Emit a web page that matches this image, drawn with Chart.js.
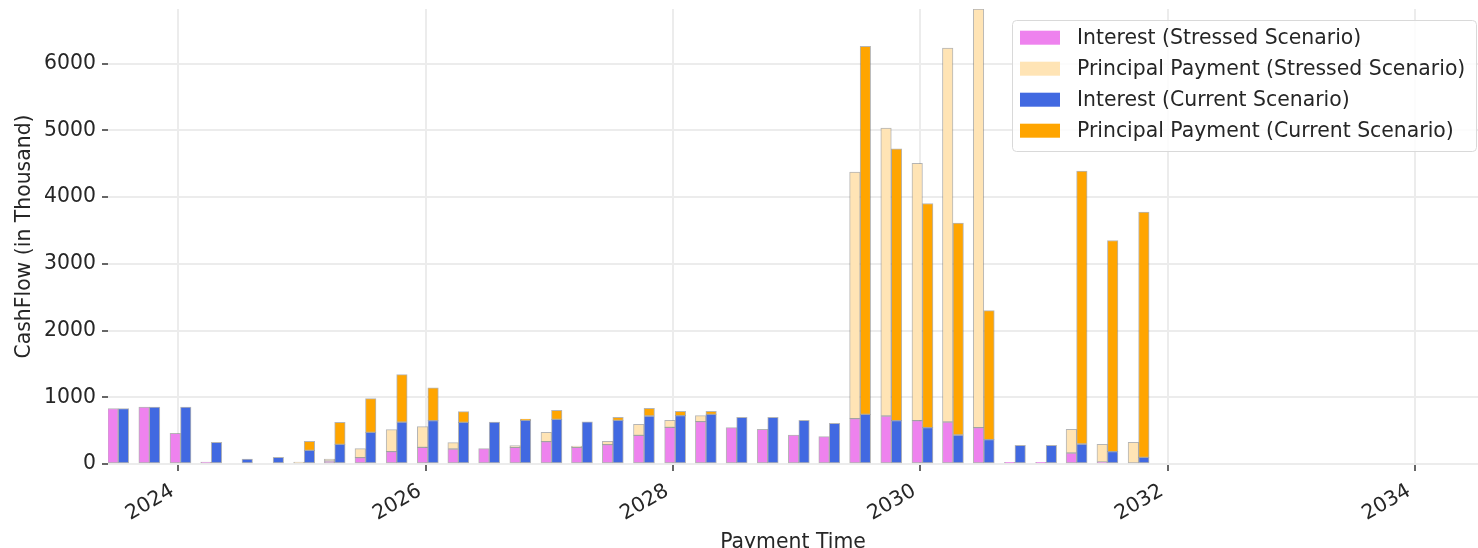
<!DOCTYPE html>
<html>
<head>
<meta charset="utf-8">
<script src="https://cdn.jsdelivr.net/npm/chart.js@4.4.1/dist/chart.umd.min.js"></script>
<style>
  html, body { margin: 0; padding: 0; background: #ffffff; }
  #wrap { position: relative; width: 1478px; height: 548px; }
</style>
</head>
<body>
<div id="wrap"><canvas id="c"></canvas></div>
<script>
// ---- data (values in thousand) ----
const paymentDates = [
  "2023-07-07","2023-10-07","2024-01-07","2024-04-07","2024-07-07","2024-10-07",
  "2025-01-07","2025-04-07","2025-07-07","2025-10-07","2026-01-07","2026-04-07",
  "2026-07-07","2026-10-07","2027-01-07","2027-04-07","2027-07-07","2027-10-07",
  "2028-01-07","2028-04-07","2028-07-07","2028-10-07","2029-01-07","2029-04-07",
  "2029-07-07","2029-10-07","2030-01-07","2030-04-07","2030-07-07","2030-10-07",
  "2031-01-07","2031-04-07","2031-07-07","2031-10-07"
];
const interestStressed = [
  832, 852, 460, 30, 0, 0,
  0, 45, 95, 185, 250, 225,
  230, 250, 335, 248, 290, 430,
  550, 635, 545, 520, 435, 410,
  680, 720, 650, 630, 545, 25,
  25, 165, 30, 0
];
const principalStressed = [
  0, 0, 0, 0, 0, 0,
  30, 30, 135, 330, 310, 95,
  0, 25, 140, 22, 50, 165,
  105, 90, 0, 0, 0, 0,
  3695, 4315, 3855, 5605, 6275, 0,
  0, 355, 265, 325
];
const interestCurrent = [
  832, 852, 852, 325, 75, 100,
  205, 295, 475, 628, 650, 625,
  630, 655, 670, 632, 655, 720,
  725, 745, 700, 700, 655, 610,
  745, 650, 545, 435, 365, 280,
  280, 300, 185, 100
];
const principalCurrent = [
  0, 0, 0, 0, 0, 0,
  135, 330, 505, 712, 490, 160,
  0, 20, 135, 0, 45, 115,
  65, 45, 0, 0, 0, 0,
  5515, 4075, 3360, 3175, 1935, 0,
  0, 4090, 3165, 3675
];
const seriesLabels = [
  "Interest (Stressed Scenario)",
  "Principal Payment (Stressed Scenario)",
  "Interest (Current Scenario)",
  "Principal Payment (Current Scenario)"
];
const yTickValues = [0, 1000, 2000, 3000, 4000, 5000, 6000];
const xTickYears = [2024, 2026, 2028, 2030, 2032, 2034];

// ---- helpers ----
function toYear(s) {
  const d = new Date(s + "T00:00:00Z");
  const y = d.getUTCFullYear();
  const a = Date.UTC(y, 0, 1), b = Date.UTC(y + 1, 0, 1);
  return y + (d.getTime() - a) / (b - a);
}
const xs = paymentDates.map(toYear);
const pts = arr => arr.map((v, i) => ({ x: xs[i], y: v }));

const colors = ["#EE82EE", "#FFE4B5", "#4169E1", "#FFA500"];
const stacks = ["stressed", "stressed", "current", "current"];
const seriesData = [interestStressed, principalStressed, interestCurrent, principalCurrent];

const FS = 20.4;
const FONT = "'DejaVu Sans', 'Liberation Sans', sans-serif";
const TEXT = "#262626";
Chart.defaults.font.family = FONT;
Chart.defaults.font.size = FS;
Chart.defaults.color = TEXT;

const legendPlugin = {
  id: "innerLegend",
  afterDraw(chart) {
    const ctx = chart.ctx;
    const x0 = 1012.5, y0 = 20.5, w = 464, h = 131;
    ctx.save();
    ctx.beginPath();
    if (ctx.roundRect) ctx.roundRect(x0, y0, w, h, 4); else ctx.rect(x0, y0, w, h);
    ctx.fillStyle = "rgba(255,255,255,0.85)";
    ctx.fill();
    ctx.lineWidth = 1;
    ctx.strokeStyle = "#d9d9d9";
    ctx.stroke();
    ctx.font = FS + "px " + FONT;
    ctx.textBaseline = "middle";
    ctx.textAlign = "left";
    chart.data.datasets.forEach((ds, i) => {
      const cy = 37.7 + i * 31;
      ctx.fillStyle = ds.backgroundColor;
      ctx.fillRect(1020, cy - 7, 40, 14);
      ctx.fillStyle = TEXT;
      ctx.fillText(ds.label, 1077, cy + 1);
    });
    ctx.restore();
  }
};

new Chart(document.getElementById("c"), {
  type: "bar",
  data: {
    datasets: seriesData.map((arr, i) => ({
      label: seriesLabels[i],
      data: pts(arr),
      stack: stacks[i],
      backgroundColor: colors[i],
      borderColor: "rgba(120,120,120,0.55)",
      borderWidth: 1,
      borderSkipped: false,
      barThickness: 10.5
    }))
  },
  options: {
    responsive: true,
    maintainAspectRatio: false,
    animation: false,
    layout: { padding: { top: 9, right: 0, bottom: 0, left: 0 } },
    plugins: {
      legend: { display: false },
      tooltip: { enabled: false },
      title: { display: false }
    },
    scales: {
      x: {
        type: "linear",
        offset: false,
        min: 2023.430,
        max: 2034.509,
        afterBuildTicks: s => { s.ticks = xTickYears.map(v => ({ value: v })); },
        afterFit: s => { s.height = 84; s.paddingLeft = 0; s.paddingRight = 0; },
        border: { display: false },
        grid: {
          offset: false,
          color: "#ececec",
          lineWidth: 2,
          tickColor: "#333333",
          tickLength: 7,
          tickWidth: 1.5
        },
        ticks: {
          autoSkip: false,
          maxRotation: 30,
          minRotation: 30,
          padding: 8,
          labelOffset: -6,
          font: { size: FS },
          color: TEXT,
          callback: v => String(v)
        },
        title: {
          display: true,
          text: "Payment Time",
          font: { size: FS, lineHeight: 1 },
          color: TEXT,
          padding: { top: 0, bottom: -5 }
        }
      },
      y: {
        stacked: true,
        min: 0,
        max: 6820,
        afterBuildTicks: s => { s.ticks = yTickValues.map(v => ({ value: v })); },
        afterFit: s => { s.width = 108; s.paddingTop = 0; s.paddingBottom = 0; },
        border: { display: false },
        grid: {
          color: "#ececec",
          lineWidth: 2,
          tickColor: "#333333",
          tickLength: 6,
          tickWidth: 1.5
        },
        ticks: {
          padding: 6,
          font: { size: FS },
          color: TEXT,
          callback: v => String(v)
        },
        title: {
          display: true,
          text: "CashFlow (in Thousand)",
          font: { size: FS },
          color: TEXT,
          padding: { top: 12, bottom: 0 }
        }
      }
    }
  },
  plugins: [legendPlugin]
});
</script>
</body>
</html>
